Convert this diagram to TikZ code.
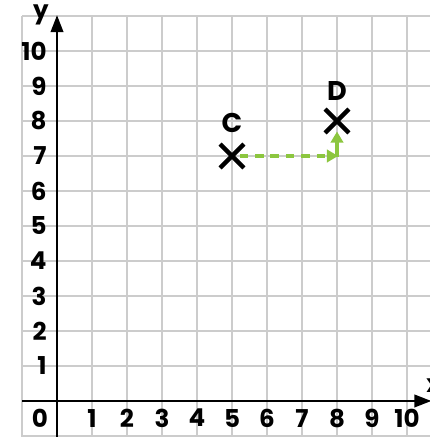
\documentclass[tikz,border=0pt]{standalone}
\usepackage{fontspec}
\setmainfont{Poppins}
\usetikzlibrary{arrows.meta}
\definecolor{gridgrey}{HTML}{CCCCCC}
\definecolor{arrowgreen}{HTML}{8CC63F}
\tikzset{
  gridline/.style={draw=gridgrey, line width=1.2pt},
  axisline/.style={line width=2.4pt, -{Triangle[length=14pt,width=10pt]}},
  num/.style={font=\fontsize{20}{20}\selectfont\bfseries, inner sep=0pt},
  crossmark/.style={line width=3.6pt},
  gdash/.style={draw=arrowgreen, line width=2.6pt, dash pattern=on 7pt off 5.5pt, -{Triangle[length=9pt,width=10pt]}},
  gsolid/.style={draw=arrowgreen, line width=2.6pt, -{Triangle[length=9pt,width=10pt]}},
  ptlabel/.style={font=\fontsize{22}{22}\selectfont\bfseries, inner sep=0pt}
}
\begin{document}
\begin{tikzpicture}
\useasboundingbox (-1.629,-1.029) rectangle (10.657,11.457);
\begin{scope}
\clip (-1.629,-1.029) rectangle (10.657,11.457);
\draw[gridline] (-1,-1.2) grid (11.5,11);
\draw[axisline] (0,-1.2) -- (0,11.03);
\draw[axisline] (-1,0) -- (10.7,0);
\node[num, anchor=base] (ylab) at (-0.46,10.93) {y};
\node[num, anchor=base] (xlab) at (10.76,0.23) {x};
\end{scope}
\node[num] (o) at (-0.49,-0.49) {0};
\foreach \k in {1,...,10} {
  \node[num] (xl\k) at (\k,-0.49) {\k};
  \node[num, anchor=east] (yl\k) at (-0.29,\k) {\k};
}
\coordinate (c) at (5,7);
\coordinate (d) at (8,8);
\coordinate (corner) at (8,7);
\draw[crossmark] ([shift={(-0.34,-0.34)}]c) -- ([shift={(0.34,0.34)}]c)
                 ([shift={(-0.34,0.34)}]c) -- ([shift={(0.34,-0.34)}]c);
\draw[crossmark] ([shift={(-0.34,-0.34)}]d) -- ([shift={(0.34,0.34)}]d)
                 ([shift={(-0.34,0.34)}]d) -- ([shift={(0.34,-0.34)}]d);
\node[ptlabel] (clab) at (5,7.94) {C};
\node[ptlabel] (dlab) at (8,8.87) {D};
\draw[gdash] ([xshift=0.22cm]c) -- ([xshift=0.03cm]corner);
\draw[gsolid] ([yshift=-0.04cm]corner) -- ([yshift=-0.3cm]d);
\end{tikzpicture}
\end{document}
